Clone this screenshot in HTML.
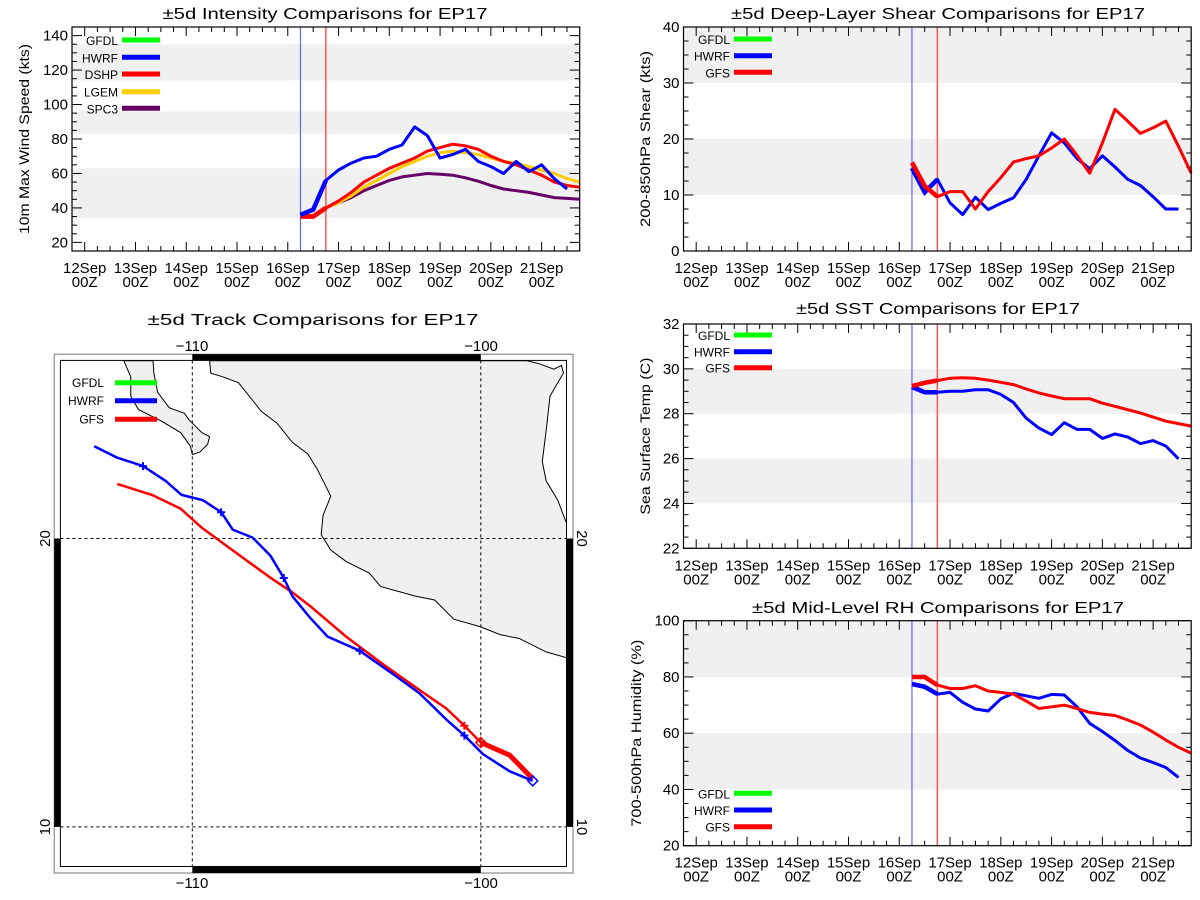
<!DOCTYPE html>
<html><head><meta charset="utf-8"><title>EP17 comparisons</title>
<style>
html,body{margin:0;padding:0;background:#fff;}
svg{display:block;font-family:"Liberation Sans",sans-serif;}
</style></head>
<body>
<svg id="root" width="1200" height="900" viewBox="0 0 1200 900" xmlns="http://www.w3.org/2000/svg">
<rect width="1200" height="900" fill="#fff"/>
<g id="g-int"></g>
<g id="g-shr"></g>
<g id="g-sst"></g>
<g id="g-rh"></g>
<g id="g-trk">
  <text x="313" y="325" font-size="16" text-anchor="middle" textLength="331" lengthAdjust="spacingAndGlyphs">±5d Track Comparisons for EP17</text>
  <rect x="54.2" y="354.2" width="518.8" height="518.8" fill="none" stroke="#777" stroke-width="1"/>
  <rect x="60.4" y="360.4" width="506.1" height="506.1" fill="#fff" stroke="#000" stroke-width="1"/>
  <g transform="translate(0,300) scale(0.3846)" fill="#f0f0f0" stroke="#000" stroke-width="2.6">
    <path d="M545,158 L548,190 L580,200 L620,215 L640,240 L680,290 L720,320 L760,370 L800,400 L825,440 L860,510 L840,560 L835,610 L860,650 L900,680 L960,710 L990,745 L1080,770 L1130,780 L1180,830 L1250,850 L1300,870 L1350,880 L1420,915 L1473,930 L1473,580 L1450,520 L1420,470 L1410,420 L1420,340 L1430,250 L1465,190 L1460,170 L1440,180 L1400,165 L1370,158 Z"/>
    <path d="M322,158 L340,200 L340,250 L360,285 L420,315 L470,345 L495,380 L500,402 L520,395 L540,375 L545,355 L525,345 L490,310 L480,295 L440,280 L410,240 L400,190 L398,158 Z"/>
  </g>
  <g id="map-grid" stroke="#000" stroke-width="1" stroke-dasharray="3,3">
    <line x1="192.3" y1="360.4" x2="192.3" y2="866.5"/>
    <line x1="480.8" y1="360.4" x2="480.8" y2="866.5"/>
    <line x1="60.4" y1="538.5" x2="566.5" y2="538.5"/>
    <line x1="60.4" y1="826.9" x2="566.5" y2="826.9"/>
  </g>
  <g fill="#000">
    <rect x="192.3" y="354.2" width="288.5" height="6.2"/>
    <rect x="192.3" y="866.5" width="288.5" height="6.5"/>
    <rect x="54.2" y="538.5" width="6.2" height="288.4"/>
    <rect x="566.5" y="538.5" width="6.5" height="288.4"/>
  </g>
  <g font-size="15" fill="#000">
    <text x="192" y="351" text-anchor="middle">−110</text>
    <text x="481" y="351" text-anchor="middle">−100</text>
    <text x="192" y="888" text-anchor="middle">−110</text>
    <text x="481" y="888" text-anchor="middle">−100</text>
    <text transform="translate(50,538.5) rotate(-90)" text-anchor="middle">20</text>
    <text transform="translate(50,827) rotate(-90)" text-anchor="middle">10</text>
    <text transform="translate(577,538.5) rotate(90)" text-anchor="middle">20</text>
    <text transform="translate(577,827) rotate(90)" text-anchor="middle">10</text>
  </g>
  <g id="trk-series"></g>
  <g font-size="12">
    <text x="104" y="387" text-anchor="end">GFDL</text><line x1="115" y1="382.7" x2="157" y2="382.7" stroke="#00ff00" stroke-width="5"/>
    <text x="104" y="405" text-anchor="end">HWRF</text><line x1="115" y1="400.8" x2="157" y2="400.8" stroke="#0000ff" stroke-width="5"/>
    <text x="104" y="423.5" text-anchor="end">GFS</text><line x1="115" y1="419.2" x2="157" y2="419.2" stroke="#ff0000" stroke-width="5"/>
  </g>
</g>
</svg>
<script>
// ===== Data (6-hourly from 16Sep06Z) =====
var dayLabels = ["12Sep","13Sep","14Sep","15Sep","16Sep","17Sep","18Sep","19Sep","20Sep","21Sep"];
var intTicks = [20,40,60,80,100,120,140];
var shrTicks = [0,10,20,30,40];
var sstTicks = [22,24,26,28,30,32];
var rhTicks = [20,40,60,80,100];
var intHWRF = [36,39,56,62,66,69,70,74,76.5,87,82,69,71,74,67,64,60,67,61,65,57,51];
var intDSHP = [35,35,40,44,49,55,59,63,66,69,73,75,77,76,74,70,67,65,62,59,55,53,52];
var intLGEM = [35,35,40,43,47,52,56,60,64,67,70,72,73,72,71,69,67,66,64,62,60,57,55];
var intSPC3 = [35,35,40,43,46,50,53,56,58,59,60,59.5,59,57.5,55.5,53,51,50,49,47.5,46,45.5,45];
var shrHWRF = [14.8,10.5,12.8,8.6,6.5,9.6,7.4,8.5,9.5,12.8,17,21.1,19.3,16.5,14.7,17,15,12.8,11.7,9.7,7.5,7.5];
var shrGFS = [15.8,11.6,9.7,10.6,10.6,7.5,10.6,13.1,15.9,16.5,17,18.4,20,17.1,13.9,19.3,25.3,23.2,21,22,23.2,18.7,13.9];
var sstHWRF = [29.19,28.96,28.96,29.0,29.0,29.07,29.07,28.86,28.5,27.8,27.36,27.07,27.6,27.3,27.3,26.9,27.1,26.96,26.67,26.8,26.56,25.99];
var sstGFS = [29.23,29.38,29.48,29.58,29.6,29.58,29.5,29.4,29.3,29.1,28.93,28.79,28.67,28.67,28.67,28.47,28.33,28.18,28.03,27.85,27.67,27.56,27.45];
var rhHWRF = [77.5,76.5,73.9,74.5,71,68.6,67.9,72.2,74.2,73.3,72.4,73.8,73.6,69.4,63.5,60.6,57.4,53.9,51.2,49.6,47.8,44.3];
var rhGFS = [80,80,77.1,75.9,75.9,76.9,75,74.5,73.9,71.4,68.8,69.4,70,68.8,67.4,66.8,66.3,64.7,62.9,60.4,57.6,55,52.9];
var trkHWRFlon = [-113.4,-112.6,-111.71,-110.93,-110.37,-109.64,-109.0,-108.6,-107.91,-107.29,-106.83,-106.53,-105.93,-105.31,-104.2,-103.0,-102.13,-101.2,-100.57,-99.93,-99.0,-98.2];
var trkHWRFlat = [23.2,22.8,22.51,22.0,21.51,21.33,20.91,20.31,20.03,19.4,18.63,18.0,17.27,16.6,16.11,15.27,14.64,13.73,13.17,12.53,11.93,11.6];
var trkGFSlon = [-112.6,-111.4,-110.4,-109.67,-108.67,-107.33,-106.53,-105.93,-104.67,-103.33,-102.07,-101.2,-100.57,-100.0,-99.0,-98.2];
var trkGFSlat = [21.89,21.51,21.03,20.37,19.64,18.67,18.13,17.67,16.6,15.6,14.71,14.11,13.51,12.93,12.49,11.67];

var NS = "http://www.w3.org/2000/svg";
function mk(tag, parent, attrs){ var e=document.createElementNS(NS,tag); for(var k in attrs) e.setAttribute(k,attrs[k]); parent.appendChild(e); return e; }

function drawChart(gid, o){
  var g = document.getElementById(gid);
  var x0=o.x0, y0=o.y0, w=507.7, h=o.h;
  // time axis: hours since 11Sep18Z over 240h
  function xs(hours){ return x0 + hours/240*w; }
  function ys(v){ return y0 + h - (v-o.ymin)/(o.ymax-o.ymin)*h; }
  o.bands.forEach(function(b){
    var r = mk('rect', g, {x:x0, y:ys(Math.min(b[1],o.ymax)), width:w, height:ys(b[0])-ys(Math.min(b[1],o.ymax)), fill:'#f0f0f0'});
    
    
  });
  var title = mk('text', g, {x:o.tx, y:o.ty, 'font-size':16, 'text-anchor':'middle', textLength:o.tw, lengthAdjust:'spacingAndGlyphs'});
  title.textContent = o.title;
  
  
  var yt = mk('text', g, {transform:'translate('+o.ytx+','+(y0+h/2)+') rotate(-90)', 'font-size':14, 'text-anchor':'middle', textLength:o.ytw, lengthAdjust:'spacingAndGlyphs'});
  yt.textContent = o.ytitle;
  
  
  // x ticks
  for (var hr=6; hr<240; hr+=6){
    var major = ((hr-6)%24===0);
    var L = major?9:5, xx=xs(hr);
    mk('line', g, {x1:xx,y1:y0+h,x2:xx,y2:y0+h-L,stroke:'#000','stroke-width':1});
    mk('line', g, {x1:xx,y1:y0,x2:xx,y2:y0+L,stroke:'#000','stroke-width':1});
  }
  dayLabels.forEach(function(d,i){
    var xx = xs(6+24*i);
    var t1 = mk('text', g, {x:xx, y:y0+h+22, 'font-size':15, 'text-anchor':'middle'});
    t1.textContent = d;
    
    
    var t2 = mk('text', g, {x:xx, y:y0+h+36, 'font-size':15, 'text-anchor':'middle'});
    t2.textContent = '00Z';
    
    
  });
  // y ticks
  var step = o.ticks[1]-o.ticks[0];
  for (var v=o.ticks[0]-step; v<=o.ymax; v+=step/4){
    if (v<o.ymin) continue;
    var maj = Math.abs(((v-o.ticks[0])/step) - Math.round((v-o.ticks[0])/step))<1e-6;
    var L2 = maj?10:5, yy=ys(v);
    mk('line', g, {x1:x0,y1:yy,x2:x0+L2,y2:yy,stroke:'#000','stroke-width':1});
    mk('line', g, {x1:x0+w,y1:yy,x2:x0+w-L2,y2:yy,stroke:'#000','stroke-width':1});
  }
  o.ticks.forEach(function(v){
    var t = mk('text', g, {x:x0-4, y:ys(v)+5, 'font-size':15, 'text-anchor':'end'});
    t.textContent = v;
    
    
  });
  // init lines
  var vb = mk('line', g, {x1:xs(108),y1:y0,x2:xs(108),y2:y0+h,stroke:'#6666ff','stroke-width':1.2});
  
  
  var vr = mk('line', g, {x1:xs(120),y1:y0,x2:xs(120),y2:y0+h,stroke:'#ff5555','stroke-width':1.5});
  
  
  // series
  o.series.forEach(function(s){
    var pts = s.vals.map(function(v,i){ return xs(108+6*i).toFixed(1)+','+ys(v).toFixed(1); });
    var p = mk('polyline', g, {points:pts.join(' '), fill:'none', stroke:s.color, 'stroke-width':3, 'stroke-linejoin':'round'});
    
    
    var st = mk('polyline', g, {points:pts.slice(0,3).join(' '), fill:'none', stroke:s.color, 'stroke-width':4.5});
    
    
  });
  // frame
  var fr = mk('rect', g, {x:x0,y:y0,width:w,height:h,fill:'none',stroke:'#000','stroke-width':1.2});
  
  
  // legend
  o.legend.forEach(function(l,i){
    var yy = o.ly[i];
    var t = mk('text', g, {x:o.lx, y:yy+5, 'font-size':12, 'text-anchor':'end'});
    t.textContent = l[0];
    
    
    var ln = mk('line', g, {x1:o.lx+4, y1:yy, x2:o.lx+42, y2:yy, stroke:l[1], 'stroke-width':5});
    
    
  });
}

var B='#0000ff', R='#ff0000', Y='#ffcc00', P='#660066', G='#00ff00';
drawChart('g-int',{x0:72,y0:27,h:224,ymin:15,ymax:145,ticks:intTicks,bands:[[34,63],[83,96],[114,135]],
  title:'±5d Intensity Comparisons for EP17',tx:325,ty:19,tw:325,ytitle:'10m Max Wind Speed (kts)',ytx:29,ytw:190,
  series:[{vals:intSPC3,color:P,name:'spc3-line'},{vals:intLGEM,color:Y,name:'lgem-line'},{vals:intDSHP,color:R,name:'dshp-line'},{vals:intHWRF,color:B,name:'hwrf-line'}],
  legend:[['GFDL',G],['HWRF',B],['DSHP',R],['LGEM',Y],['SPC3',P]],lx:118,ly:[40,57.3,74,91.7,108.3]});
drawChart('g-shr',{x0:683.5,y0:27,h:224,ymin:0,ymax:40,ticks:shrTicks,bands:[[10,20],[30,40]],
  title:'±5d Deep-Layer Shear Comparisons for EP17',tx:938,ty:19,tw:414,ytitle:'200-850hPa Shear (kts)',ytx:650,ytw:176,
  series:[{vals:shrHWRF,color:B,name:'hwrf-shear-line'},{vals:shrGFS,color:R,name:'gfs-shear-line'}],
  legend:[['GFDL',G],['HWRF',B],['GFS',R]],lx:730,ly:[39,55.7,72.3]});
drawChart('g-sst',{x0:683.5,y0:324,h:224.3,ymin:22,ymax:32,ticks:sstTicks,bands:[[24,26],[28,30]],
  title:'±5d SST Comparisons for EP17',tx:938,ty:314,tw:284,ytitle:'Sea Surface Temp (C)',ytx:650,ytw:157,
  series:[{vals:sstHWRF,color:B,name:'hwrf-sst-line'},{vals:sstGFS,color:R,name:'gfs-sst-line'}],
  legend:[['GFDL',G],['HWRF',B],['GFS',R]],lx:730,ly:[335,351.7,367.7]});
drawChart('g-rh',{x0:683.5,y0:620.7,h:225,ymin:20,ymax:100,ticks:rhTicks,bands:[[40,60],[80,100]],
  title:'±5d Mid-Level RH Comparisons for EP17',tx:938,ty:613,tw:372,ytitle:'700-500hPa Humidity (%)',ytx:641,ytw:187,
  series:[{vals:rhHWRF,color:B,name:'hwrf-rh-line'},{vals:rhGFS,color:R,name:'gfs-rh-line'}],
  legend:[['GFDL',G],['HWRF',B],['GFS',R]],lx:730,ly:[793.3,810,826.7]});

// ===== Track map =====
(function(){
  var g = document.getElementById('trk-series');
  function px(lon){ return 192.3 + (lon+110)*28.85; }
  function py(lat){ return 538.5 - (lat-20)*28.85; }
  function line(lons, lats, color, name){
    var pts = lons.map(function(l,i){ return px(l).toFixed(1)+','+py(lats[i]).toFixed(1); });
    var p = mk('polyline', g, {points:pts.join(' '), fill:'none', stroke:color, 'stroke-width':2.5, 'stroke-linejoin':'round'});
    
    
    return pts;
  }
  line(trkGFSlon, trkGFSlat, R, 'gfs-track');
  var gp = trkGFSlon.slice(13).map(function(l,i){ return px(l).toFixed(1)+','+py(trkGFSlat[13+i]).toFixed(1); });
  var th = mk('polyline', g, {points:gp.join(' '), fill:'none', stroke:R, 'stroke-width':5});
  
  
  line(trkHWRFlon, trkHWRFlat, B, 'hwrf-track');
  function cross(lon, lat, color){
    var x=px(lon), y=py(lat);
    var c = mk('path', g, {d:'M'+(x-4)+','+y+'h8M'+x+','+(y-4)+'v8', stroke:color, 'stroke-width':2});
    
    
  }
  [2,6,10,14,18].forEach(function(i){ cross(trkHWRFlon[i], trkHWRFlat[i], B); });
  cross(trkGFSlon[12], trkGFSlat[12], R);
  function diamond(lon, lat, color){
    var x=px(lon), y=py(lat);
    var d = mk('path', g, {d:'M'+x+','+(y-5)+'L'+(x+5)+','+y+'L'+x+','+(y+5)+'L'+(x-5)+','+y+'Z', fill:'none', stroke:color, 'stroke-width':1.5});
    
    
  }
  diamond(trkHWRFlon[21], trkHWRFlat[21], B);
  diamond(trkGFSlon[13], trkGFSlat[13], R);
})();
</script>
</body></html>
